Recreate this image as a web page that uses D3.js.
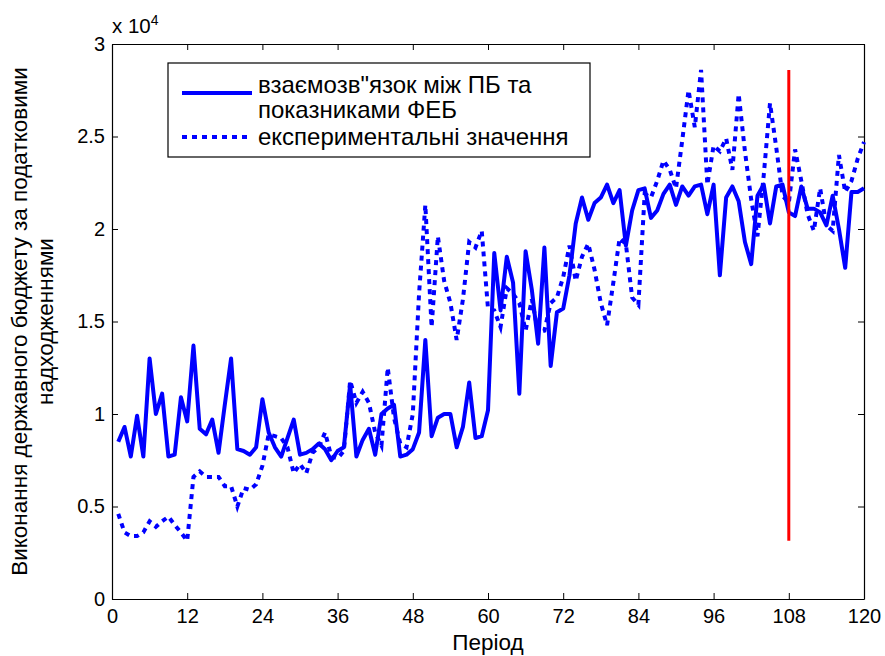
<!DOCTYPE html>
<html>
<head>
<meta charset="utf-8">
<script src="https://cdn.jsdelivr.net/npm/d3@7"></script>
<style>
  body { margin: 0; background: #fff; }
  text { font-family: "Liberation Sans", Arial, sans-serif; fill: #000; }
</style>
</head>
<body>
<div id="chart-area"></div>
<script>

// periods 1..120
const periods = d3.range(1, 121);

// взаємозв'язок між ПБ та показниками ФЕБ (x 10^4)
const modelValues = [
  0.85, 0.93, 0.77, 0.99, 0.77, 1.30, 1.00, 1.11, 0.77, 0.78,
  1.09, 0.96, 1.37, 0.92, 0.89, 0.97, 0.79, 1.05, 1.30, 0.81,
  0.80, 0.78, 0.82, 1.08, 0.90, 0.82, 0.77, 0.87, 0.97, 0.78,
  0.79, 0.81, 0.84, 0.81, 0.75, 0.80, 0.82, 1.16, 0.77, 0.86,
  0.92, 0.78, 1.00, 1.03, 1.05, 0.77, 0.78, 0.81, 0.90, 1.40,
  0.88, 0.98, 1.00, 1.00, 0.82, 0.93, 1.17, 0.87, 0.88, 1.02,
  1.87, 1.56, 1.85, 1.71, 1.11, 1.88, 1.67, 1.38, 1.90, 1.26,
  1.55, 1.57, 1.75, 2.03, 2.17, 2.05, 2.14, 2.17, 2.24, 2.14,
  2.21, 1.91, 2.10, 2.21, 2.22, 2.06, 2.10, 2.19, 2.24, 2.13,
  2.23, 2.18, 2.23, 2.24, 2.08, 2.24, 1.75, 2.17, 2.23, 2.15,
  1.93, 1.81, 2.18, 2.24, 2.03, 2.23, 2.24, 2.09, 2.07, 2.23,
  2.11, 2.11, 2.09, 2.02, 2.18, 2.00, 1.79, 2.20, 2.20, 2.22
].map(v => v * 1e4);

// експериментальні значення (x 10^4)
const experimentValues = [
  0.46, 0.36, 0.34, 0.34, 0.36, 0.42, 0.39, 0.42, 0.445, 0.40,
  0.36, 0.315, 0.66, 0.69, 0.66, 0.66, 0.66, 0.61, 0.61, 0.50,
  0.60, 0.59, 0.62, 0.72, 0.89, 0.88, 0.87, 0.82, 0.68, 0.73,
  0.68, 0.79, 0.82, 0.90, 0.77, 0.76, 0.80, 1.18, 1.06, 1.12,
  1.06, 0.90, 0.83, 1.25, 0.98, 0.84, 0.82, 1.00, 1.65, 2.13,
  1.47, 1.96, 1.72, 1.60, 1.40, 1.62, 1.93, 1.90, 1.99, 1.57,
  1.56, 1.47, 1.68, 1.65, 1.60, 1.45, 1.62, 1.44, 1.45, 1.60,
  1.63, 1.74, 1.91, 1.72, 1.85, 1.92, 1.78, 1.60, 1.48, 1.71,
  1.95, 1.92, 1.63, 1.59, 2.19, 2.17, 2.26, 2.37, 2.32, 2.22,
  2.48, 2.75, 2.55, 2.86, 2.24, 2.45, 2.42, 2.49, 2.32, 2.73,
  2.42, 2.16, 1.96, 2.29, 2.68, 2.44, 2.18, 2.14, 2.43, 2.26,
  2.08, 1.99, 2.22, 2.02, 1.99, 2.40, 2.20, 2.26, 2.38, 2.47
].map(v => v * 1e4);

const splitPeriod = 108;
const xTicks = d3.range(0, 121, 12);
const yTicks = d3.range(0, 30001, 5000);
const legendLabels = [['взаємозв"язок між ПБ та', 'показниками ФЕБ'], ['експериментальні значення']];
const yLabel = ['Виконання державного бюджету за податковими', 'надходженнями'];
const xLabel = 'Період';

const margin = { top: 44, right: 21, bottom: 57, left: 112 };
const widthSvg = 885;
const heightSvg = 656;
const widthChart = widthSvg - margin.left - margin.right;
const heightChart = heightSvg - margin.top - margin.bottom;

const scaleX = d3.scaleLinear().domain([0, 120]).range([0, widthChart]);
const scaleY = d3.scaleLinear().domain([0, 30000]).range([heightChart, 0]);

const svg = d3.select('#chart-area').append('svg')
  .attr('width', widthSvg)
  .attr('height', heightSvg);

const chart = svg.append('g')
  .attr('transform', `translate(${margin.left}, ${margin.top})`);

// axes, ticks pointing inward
const styleAxis = g => {
  g.select('.domain').attr('stroke', '#000').attr('stroke-width', 1.2);
  g.selectAll('.tick line').attr('stroke', '#000');
  g.selectAll('.tick text').attr('font-size', '20px').attr('font-family', '"Liberation Sans", Arial, sans-serif');
};

chart.append('g')
  .attr('transform', `translate(0, ${heightChart})`)
  .call(d3.axisBottom(scaleX).tickValues(xTicks).tickSizeInner(-6).tickSizeOuter(0).tickPadding(10))
  .call(styleAxis);

chart.append('g')
  .call(d3.axisTop(scaleX).tickValues(xTicks).tickSizeInner(-6).tickSizeOuter(0).tickFormat(''))
  .call(styleAxis);

chart.append('g')
  .call(d3.axisLeft(scaleY).tickValues(yTicks).tickSizeInner(-6).tickSizeOuter(0).tickPadding(7)
    .tickFormat(d => String(d / 1e4)))
  .call(styleAxis);

chart.append('g')
  .attr('transform', `translate(${widthChart}, 0)`)
  .call(d3.axisRight(scaleY).tickValues(yTicks).tickSizeInner(-6).tickSizeOuter(0).tickFormat(''))
  .call(styleAxis);

// exponent label
const expLabel = chart.append('text')
  .attr('x', 0)
  .attr('y', -11)
  .attr('font-size', '20.5px');
expLabel.append('tspan').text('x 10');
expLabel.append('tspan').attr('font-size', '14px').attr('dy', -8).text('4');

// lines
const line = d3.line()
  .x((d, i) => scaleX(periods[i]))
  .y(d => scaleY(d));

chart.append('path')
  .datum(modelValues)
  .attr('d', line)
  .attr('fill', 'none')
  .attr('stroke', '#0000ff')
  .attr('stroke-width', 4)
  .attr('stroke-linejoin', 'round');

chart.append('path')
  .datum(experimentValues)
  .attr('d', line)
  .attr('fill', 'none')
  .attr('stroke', '#0000ff')
  .attr('stroke-width', 4)
  .attr('stroke-dasharray', '5,5');

// split marker spans the range of experimental data
const [minExp, maxExp] = d3.extent(experimentValues);
chart.append('line')
  .attr('x1', scaleX(splitPeriod))
  .attr('x2', scaleX(splitPeriod))
  .attr('y1', scaleY(minExp))
  .attr('y2', scaleY(maxExp))
  .attr('stroke', '#ff0000')
  .attr('stroke-width', 3);

// axis labels
svg.append('text')
  .text(xLabel)
  .attr('x', margin.left + widthChart / 2)
  .attr('y', 650)
  .attr('text-anchor', 'middle')
  .attr('font-size', '22.5px');

yLabel.forEach((t, i) => {
  svg.append('text')
    .text(t)
    .attr('transform', `translate(${27 + i * 26}, ${margin.top + heightChart / 2})rotate(-90)`)
    .attr('text-anchor', 'middle')
    .attr('font-size', '22.5px');
});

// legend
const legend = svg.append('g');
legend.append('rect')
  .attr('x', 168).attr('y', 63)
  .attr('width', 422).attr('height', 94)
  .attr('fill', '#fff').attr('stroke', '#000').attr('stroke-width', 1.2);

legend.append('line')
  .attr('x1', 182).attr('x2', 252).attr('y1', 93).attr('y2', 93)
  .attr('stroke', '#0000ff').attr('stroke-width', 4);
legend.append('line')
  .attr('x1', 182).attr('x2', 252).attr('y1', 137).attr('y2', 137)
  .attr('stroke', '#0000ff').attr('stroke-width', 4).attr('stroke-dasharray', '5,5');

const legendRows = [legendLabels[0][0], legendLabels[0][1], legendLabels[1][0]];
const legendBaselines = [93, 118, 145];
legendRows.forEach((t, i) => {
  legend.append('text')
    .text(t)
    .attr('x', 258)
    .attr('y', legendBaselines[i])
    .attr('font-size', '24px');
});

</script>
</body>
</html>
